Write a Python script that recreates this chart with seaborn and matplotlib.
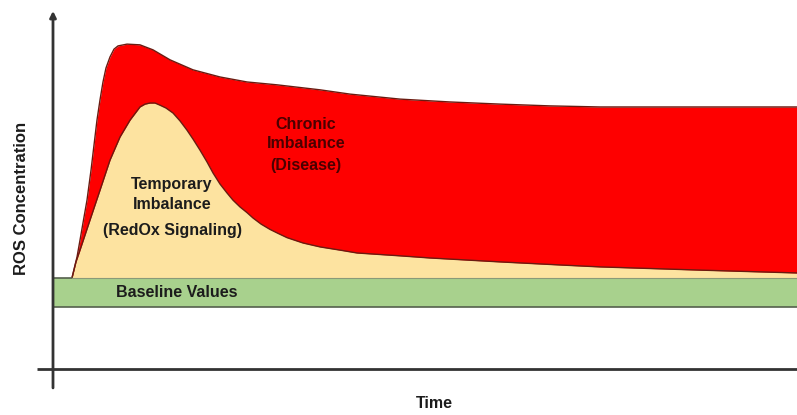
import matplotlib
matplotlib.use("Agg")
import matplotlib.pyplot as plt
import numpy as np
import pandas as pd
import seaborn as sns

# ── Data (arbitrary units) ────────────────────────────────────────────────────
# chronic imbalance (disease): upper envelope
chronic_t = [2.55, 2.96, 3.23, 3.63, 4.03, 4.57, 5.11, 5.51, 5.91, 6.32, 6.72,
             7.12, 7.66, 8.2, 8.74, 9.95, 11.69, 13.44, 15.73, 18.82, 22.45,
             26.08, 30.11, 35.89, 39.92, 46.64, 53.36, 60.08, 66.8, 73.52,
             86.96, 100.0]
chronic_c = [25.5, 29.1, 31.4, 36.1, 40.9, 47.3, 55.7, 62.7, 69.7, 75.4, 80.4,
             84.3, 87.4, 89.6, 90.5, 91.0, 90.8, 89.4, 86.6, 83.8, 81.8,
             80.4, 79.6, 78.2, 77.0, 75.6, 74.8, 74.2, 73.7, 73.4,
             73.4, 73.4]

# temporary imbalance (redox signaling)
temp_t = [2.55, 3.09, 3.63, 4.3, 4.97, 6.32, 7.66, 9.01, 10.35, 11.69, 12.37,
          13.04, 13.71, 14.38, 15.19, 16.13, 17.07, 18.01, 18.82, 19.76, 20.7,
          21.51, 22.45, 23.39, 24.19, 25.13, 26.08, 26.88, 27.96, 29.17, 30.24,
          31.45, 33.6, 35.89, 38.58, 40.86, 46.64, 50.67, 60.08, 68.55, 73.52,
          86.96, 100.0]
temp_c = [25.5, 30.0, 33.3, 37.5, 41.7, 50.1, 58.5, 65.0, 69.7, 73.4, 74.2,
          74.5, 74.5, 73.9, 73.1, 71.7, 69.5, 66.9, 64.4, 61.3, 58.0,
          54.9, 51.8, 49.3, 47.3, 45.4, 43.8, 42.3, 40.6, 39.1, 38.0,
          36.8, 35.3, 34.2, 33.3, 32.5, 31.7, 31.1, 30.0, 29.1, 28.6,
          27.7, 26.9]

# baseline band
baseline_low = 17.4
baseline_high = 25.5
onset_t = 2.55
t_max = 100.0

# ── Style ─────────────────────────────────────────────────────────────────────
sns.set_theme(style="white")
plt.rcParams["font.family"] = ["Liberation Sans", "DejaVu Sans"]

RED = "#FE0000"
YELLOW = "#FDE3A0"
GREEN = "#A8D18D"
EDGE = "#6b1a10"
AXIS = "#333333"

chronic = pd.DataFrame({"Time": chronic_t, "ROS": chronic_c})
temporary = pd.DataFrame({"Time": temp_t, "ROS": temp_c})

fig = plt.figure(figsize=(7.97, 4.15), dpi=100)
ax = fig.add_axes([0, 0, 1, 1])

# areas
ax.fill_between(chronic["Time"], baseline_high, chronic["ROS"], color=RED, lw=0, zorder=2)
ax.fill_between(temporary["Time"], baseline_high, temporary["ROS"], color=YELLOW, lw=0, zorder=3)
for d in (chronic, temporary):
    sns.lineplot(data=d, x="Time", y="ROS", ax=ax, color=EDGE, lw=1.0, zorder=4,
                 solid_joinstyle="round")

# baseline band
ax.fill_between([0, t_max], baseline_low, baseline_high, color=GREEN, lw=0, zorder=5)
ax.plot([0, t_max], [baseline_low, baseline_low], color="#55604d", lw=1.2, zorder=6)
ax.plot([0, onset_t], [baseline_high, baseline_high], color="#55604d", lw=1.2, zorder=6)
ax.plot([onset_t, t_max], [baseline_high, baseline_high], color="#8a9a78", lw=0.8, zorder=6)

# axes with arrow
ax.plot([-2.15, t_max], [0, 0], color=AXIS, lw=2, zorder=7, solid_capstyle="butt")
ax.annotate("", xy=(0, 100.3), xytext=(0, -5.3),
            arrowprops=dict(arrowstyle="-|>", color=AXIS, lw=2, mutation_scale=9,
                            shrinkA=0, shrinkB=0), zorder=7)

# labels
dark = "#1c1c1c"
kw = dict(ha="center", va="center", fontsize=11.5, fontweight="bold", zorder=8)
for txt, y in [("Chronic", 68.6), ("Imbalance", 63.3), ("(Disease)", 57.1)]:
    ax.text(34.0, y, txt, color="#4a0000", **kw)
for txt, y in [("Temporary", 51.8), ("Imbalance", 46.2), ("(RedOx Signaling)", 38.9)]:
    ax.text(16.0, y, txt, color=dark, **kw)
ax.text(16.7, 21.4, "Baseline Values", color=dark, **kw)
ax.text(51.2, -9.8, "Time", color=dark, **kw)
ax.text(-4.17, 47.9, "ROS Concentration", color=dark, rotation=90,
        ha="center", va="center", fontsize=12, fontweight="bold")

ax.set_xlim(-7.124, t_max)
ax.set_ylim(-12.885, 103.36)
ax.axis("off")

fig.savefig("out.png", dpi=100)
